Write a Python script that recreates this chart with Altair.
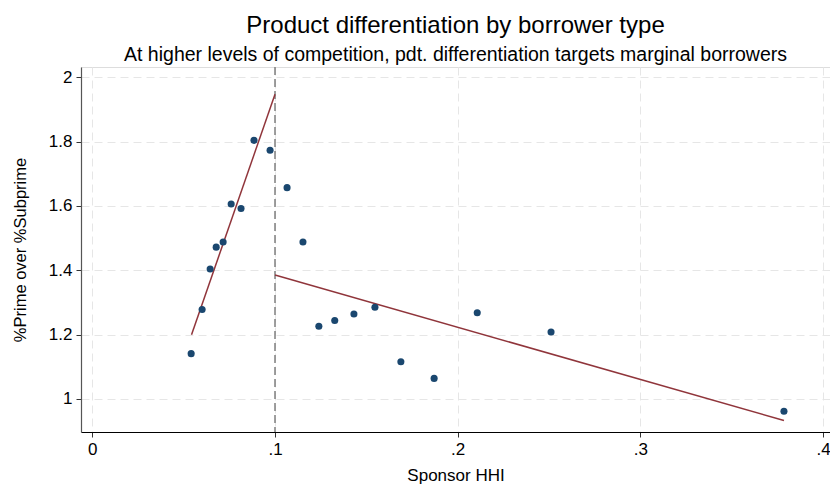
import altair as alt
import pandas as pd

# Scatter data (Sponsor HHI vs %Prime over %Subprime)
hhi = [0.0541, 0.0601, 0.0645, 0.0678, 0.0716, 0.0760, 0.0814, 0.0885, 0.0973,
       0.1066, 0.1153, 0.1240, 0.1327, 0.1432, 0.1547, 0.1689, 0.1871, 0.2107,
       0.2511, 0.3786]
ratio = [1.141, 1.278, 1.404, 1.472, 1.488, 1.606, 1.592, 1.804, 1.773,
         1.657, 1.488, 1.226, 1.244, 1.264, 1.285, 1.116, 1.064, 1.268,
         1.208, 0.962]

# Fitted lines
fit_seg = ["low", "low", "high", "high"]
fit_x = [0.0543, 0.1, 0.1, 0.3786]
fit_y = [1.200, 1.947, 1.3855, 0.933]

cutoff = [0.1]

x_ticks = [0, 0.1, 0.2, 0.3, 0.4]
y_ticks = [1, 1.2, 1.4, 1.6, 1.8, 2]

pts = pd.DataFrame({"hhi": hhi, "ratio": ratio})
fit = pd.DataFrame({"seg": fit_seg, "x": fit_x, "y": fit_y})
cut = pd.DataFrame({"x": cutoff})

FONT = "Liberation Sans"
xdom = [-0.0062, 0.4038]
ydom = [0.8974, 2.032]

xscale = alt.Scale(domain=xdom, nice=False, zero=False)
yscale = alt.Scale(domain=ydom, nice=False, zero=False)

xaxis = alt.Axis(
    values=x_ticks, title="Sponsor HHI",
    labelExpr="datum.value == 0 ? '0' : slice(format(datum.value, '.1f'), 1)",
    grid=True, gridColor="#e6e6e6", gridDash=[8, 5], gridWidth=1,
    domainColor="#000000", domainWidth=1.2,
    tickColor="#333333", tickSize=5, tickWidth=1,
    labelFontSize=17, labelFont=FONT, labelColor="#000000", labelPadding=4,
    titleFontSize=17, titleFont=FONT, titleFontWeight="normal", titleColor="#000000",
    titlePadding=10,
)
yaxis = alt.Axis(
    values=y_ticks, title="%Prime over %Subprime", format=".1~f",
    grid=True, gridColor="#e6e6e6", gridDash=[8, 5], gridWidth=1,
    domainColor="#555555", domainWidth=1.2,
    tickColor="#333333", tickSize=5, tickWidth=1,
    labelFontSize=17, labelFont=FONT, labelColor="#000000", labelPadding=4,
    titleFontSize=16.5, titleFont=FONT, titleFontWeight="normal", titleColor="#000000",
    titlePadding=20,
)

points = alt.Chart(pts).mark_circle(size=50, color="#1a476f", opacity=1).encode(
    x=alt.X("hhi:Q", scale=xscale, axis=xaxis),
    y=alt.Y("ratio:Q", scale=yscale, axis=yaxis),
)

rule = alt.Chart(cut).mark_rule(color="#7f7f7f", strokeWidth=1.5, strokeDash=[8, 4]).encode(
    x=alt.X("x:Q", scale=xscale),
)

lines = alt.Chart(fit).mark_line(color="#90353b", strokeWidth=1.5).encode(
    x=alt.X("x:Q", scale=xscale),
    y=alt.Y("y:Q", scale=yscale),
    detail="seg:N",
)

chart = alt.layer(rule, lines, points).properties(
    width=749, height=365,
    title=alt.TitleParams(
        text="Product differentiation by borrower type",
        subtitle="At higher levels of competition, pdt. differentiation targets marginal borrowers",
        anchor="middle", font=FONT, fontSize=24, fontWeight="normal", color="#000000",
        subtitleFont=FONT, subtitleFontSize=19.5, subtitleColor="#000000",
        subtitlePadding=8, offset=2,
    ),
    autosize=alt.AutoSizeParams(type="none"),
    padding={"left": 81, "top": 67, "right": 0, "bottom": 55},
).configure_view(stroke=None).configure(background="white")

chart.save("out.html", embed_options={"renderer": "svg", "actions": False})
